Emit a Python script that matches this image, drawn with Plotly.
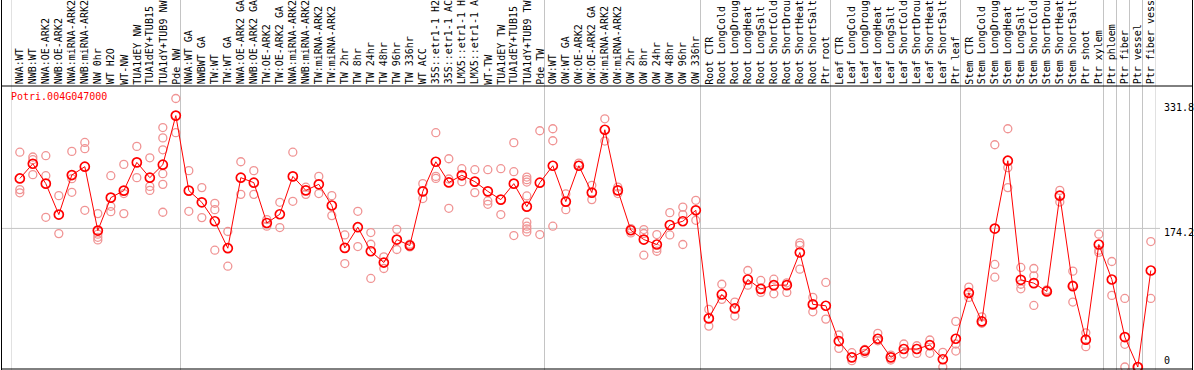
import plotly.graph_objects as go

categories = [
    "NWA:WT", "NWB:WT", "NWA:OE-ARK2", "NWB:OE-ARK2", "NWA:miRNA-ARK2", "NWB:miRNA-ARK2",
    "NW 0hr", "WT H2O", "WT-NW", "TUA1dEY NW", "TUA1dEY+TUB15 NW", "TUA1dY+TUB9 NW", "Pde NW",
    "NWA:WT GA", "NWBWT GA", "TW:WT", "TW:WT GA", "NWA:OE-ARK2 GA", "NWB:OE-ARK2 GA",
    "TW:OE-ARK2", "TW:OE-ARK2 GA", "NWA:miRNA-ARK2 GA", "NWB:miRNA-ARK2 GA", "TW:miRNA-ARK2",
    "TW:miRNA-ARK2 GA", "TW 2hr", "TW 8hr", "TW 24hr", "TW 48hr", "TW 96hr", "TW 336hr",
    "WT ACC", "35S::etr1-1 H2O", "35S::etr1-1 ACC", "LMX5::etr1-1 H2O", "LMX5::etr1-1 ACC",
    "WT-TW", "TUA1dEY TW", "TUA1dEY+TUB15 TW", "TUA1dY+TUB9 TW", "Pde TW",
    "OW:WT", "OW:WT GA", "OW:OE-ARK2", "OW:OE-ARK2 GA", "OW:miRNA-ARK2", "OW:miRNA-ARK2 GA",
    "OW 2hr", "OW 8hr", "OW 24hr", "OW 48hr", "OW 96hr", "OW 336hr",
    "Root CTR", "Root LongCold", "Root LongDrought", "Root LongHeat", "Root LongSalt",
    "Root ShortCold", "Root ShortDrought", "Root ShortHeat", "Root ShortSalt", "Ptr root",
    "Leaf CTR", "Leaf LongCold", "Leaf LongDrought", "Leaf LongHeat", "Leaf LongSalt",
    "Leaf ShortCold", "Leaf ShortDrought", "Leaf ShortHeat", "Leaf ShortSalt", "Ptr leaf",
    "Stem CTR", "Stem LongCold", "Stem LongDrought", "Stem LongHeat", "Stem LongSalt",
    "Stem ShortCold", "Stem ShortDrought", "Stem ShortHeat", "Stem ShortSalt", "Ptr shoot",
    "Ptr xylem", "Ptr phloem", "Ptr fiber", "Ptr vessel", "Ptr fiber vessel",
]

group_sizes = [13, 28, 12, 10, 10, 11, 1, 1, 1, 1]

mean_values = [
    237, 255.5, 230.5, 191.6, 241.3, 251.8, 171.5, 212.9, 221.7, 257.2, 238, 254.3, 316,
    221.7, 207, 183.2, 149.3, 238, 231.7, 181, 192, 239.6, 222, 229.6, 203, 149.7, 175.7, 145.5,
    131.3, 160.2, 152.7, 220.8, 258, 232, 241, 233, 220.8, 210.4, 230.5, 201.6, 231.7,
    253, 207.9, 253, 219.2, 298.2, 222, 171.9, 160.2, 154, 178.5, 183.2, 197,
    61.1, 91.2, 73.6, 110, 98.2, 102.9, 102.9, 143.9, 78.7, 77,
    32.6, 12.1, 20.5, 35.5, 12.1, 22.6, 22.6, 27.6, 9.7, 35.5,
    93.2, 57.3, 174, 259.3, 109.6, 105.4, 95, 215.4, 101.6, 34.3, 154,
    110, 37.6, 0, 121.3,
]

replicate_values = [
    [270, 223, 219], [264, 260.6, 241.8], [265.6, 240.5, 188.2], [215.4, 167.7],
    [271, 236.7, 219.6], [282.3, 274.4, 197], [192.8, 166.9, 159.7, 163], [240.5, 202, 195.3],
    [254.7, 218, 192.8], [277.3, 238], [263, 227, 222], [301, 288, 273, 243, 229.6, 194.5],
    [337.5, 294.5],
    [246.8, 195.7], [225.5, 187.8], [205.8, 197.8, 146.8], [170.3, 126.7], [258, 217],
    [246.8, 217], [185.3, 177], [207, 175.3], [270, 208.3], [226, 217], [239.6, 218],
    [215.4, 190.3], [166, 130], [195.7, 151.4], [169, 154.3, 111.3], [138.4, 123.8],
    [173, 147.7], [154.3, 151], [230.5, 211.7], [294.5, 239.6, 237], [261.8, 236.3, 199.5],
    [249.3, 233], [248, 219.2], [248, 208.7, 204.5], [249.3, 191.6], [282, 245.5, 165.2],
    [238.8, 235.5, 232.5, 215, 182, 177, 173.5, 169.8], [297, 166.5],
    [299.5, 284.4, 177], [217.5, 197.8], [256.3, 253.5], [228.4, 210.4], [312, 284],
    [226.2, 218], [174, 168.5], [172.8, 167.8, 140.5], [166.5, 149, 145.5], [194, 166],
    [201, 191.6, 154], [209.5, 184.4],
    [72.4, 51.4], [104, 85], [81.6, 64], [121.3, 102.9], [108.8, 93.7], [110.4, 92],
    [105.8, 93.7], [156, 153, 123], [87.5, 69.4], [106.3, 60.2],
    [40.2, 23.4], [18, 7.9], [22, 17.2], [42.3, 33], [8.8, 15], [28.9, 16.3], [26.7, 17],
    [33.9, 17.2], [18.4, 0], [57.3, 28.9, 20],
    [100.4, 87.5], [63.1, 55], [279.4, 128.9, 112.9], [299.5, 250.6, 225.5],
    [125.1, 104, 98.3], [123.8, 114.6, 77.4], [97, 96], [222, 207.4], [120.5, 103, 81.6],
    [43, 25.5], [166.9, 146.8, 144],
    [132.6, 90], [86.2, 28.5, 0], [0], [157.7, 86.2],
]

gene_id = "Potri.004G047000"
axis_tick_values = [331.8, 174.2, 0]
axis_tick_labels = ["331.8", "174.2", "0"]
grid_value = 174.2
LABEL_MAX_CHARS = 14  # header height holds 14 monospace characters

# ---- layout geometry (pixels) ----
W, H = 1194, 370
PLOT_L, PLOT_R = 11.5, 1155.5
PLOT_T, PLOT_B = 86.5, 368.5
XOFF = 0.14
Y_RANGE = [-1.9, 352.6]
FONT = "DejaVu Sans Mono"
RED = "#ff0000"
PINK = "#f09494"
GRAY = "#c4c4c4"


def px_x(p):
    return p / W


def px_y(p):
    return (H - p) / H


n = len(categories)
x_idx = list(range(n))

rep_x, rep_y = [], []
for i, reps in enumerate(replicate_values):
    for v in reps:
        rep_x.append(i)
        rep_y.append(v)

fig = go.Figure()
fig.add_trace(go.Scatter(
    x=rep_x, y=rep_y, mode="markers",
    marker=dict(symbol="circle-open", size=8, color=PINK, line=dict(width=1.3, color=PINK)),
    hoverinfo="skip", showlegend=False, cliponaxis=False,
))
fig.add_trace(go.Scatter(
    x=x_idx, y=mean_values, mode="lines+markers",
    line=dict(color=RED, width=1),
    marker=dict(symbol="circle-open", size=9, color=RED, line=dict(width=1.7, color=RED)),
    hoverinfo="skip", showlegend=False, cliponaxis=False,
))

shapes = []
# group separators
b = 0
bounds = [0]
for g in group_sizes:
    b += g
    bounds.append(b)
for k in bounds:
    shapes.append(dict(type="line", xref="x", yref="paper", x0=k - 0.5 - XOFF, x1=k - 0.5 - XOFF,
                       y0=0, y1=1, line=dict(color=GRAY, width=1), layer="below"))
# horizontal grid
shapes.append(dict(type="line", xref="paper", yref="y", x0=px_x(1.5), x1=px_x(1160),
                   y0=grid_value, y1=grid_value, line=dict(color=GRAY, width=1), layer="below"))
# black frame
shapes.append(dict(type="line", xref="paper", yref="paper", x0=px_x(1.5), x1=px_x(1.5),
                   y0=0, y1=1, line=dict(color="black", width=1)))
shapes.append(dict(type="line", xref="paper", yref="paper", x0=px_x(1192.5), x1=px_x(1192.5),
                   y0=0, y1=1, line=dict(color="black", width=1)))
shapes.append(dict(type="line", xref="paper", yref="paper", x0=px_x(1), x1=px_x(1193),
                   y0=px_y(PLOT_T - 0.5), y1=px_y(PLOT_T - 0.5), line=dict(color="black", width=1)))
shapes.append(dict(type="line", xref="paper", yref="paper", x0=px_x(1), x1=px_x(1193),
                   y0=px_y(PLOT_B + 0.5), y1=px_y(PLOT_B + 0.5), line=dict(color="black", width=1)))

annotations = []
for i, c in enumerate(categories):
    annotations.append(dict(
        x=i, xref="x", y=px_y(84.5), yref="paper", text=c[:LABEL_MAX_CHARS].rstrip(),
        textangle=-90, xanchor="center", yanchor="bottom", showarrow=False,
        borderpad=0, borderwidth=0,
        font=dict(family=FONT, size=10, color="black"),
    ))
for v, t in zip(axis_tick_values, axis_tick_labels):
    if v == 0:
        annotations.append(dict(x=px_x(1163), xref="paper", y=v, yref="y", text=t,
                                xanchor="left", yanchor="bottom", showarrow=False, borderpad=0,
                                yshift=0, font=dict(family=FONT, size=10, color="black")))
    else:
        annotations.append(dict(x=px_x(1163), xref="paper", y=v, yref="y", text=t,
                                xanchor="left", yanchor="middle", showarrow=False, borderpad=0,
                                yshift=-4.5, font=dict(family=FONT, size=10, color="black")))
annotations.append(dict(x=px_x(9.5), xref="paper", y=px_y(96.5), yref="paper", text=gene_id,
                        xanchor="left", yanchor="middle", showarrow=False, borderpad=0,
                        font=dict(family=FONT, size=10, color=RED)))

fig.update_layout(
    width=W, height=H, margin=dict(l=0, r=0, t=0, b=0),
    paper_bgcolor="white", plot_bgcolor="white",
    xaxis=dict(domain=[px_x(PLOT_L), px_x(PLOT_R)], range=[-0.5 - XOFF, n - 0.5 - XOFF],
               visible=False, fixedrange=True),
    yaxis=dict(domain=[px_y(PLOT_B), px_y(PLOT_T)], range=Y_RANGE, visible=False, fixedrange=True),
    shapes=shapes, annotations=annotations, showlegend=False,
)

fig.write_html(
    "out.html",
    config={"displayModeBar": False, "staticPlot": True},
    post_script="document.body.style.margin='0';document.body.style.padding='0';"
                "document.body.style.overflow='hidden';",
)
